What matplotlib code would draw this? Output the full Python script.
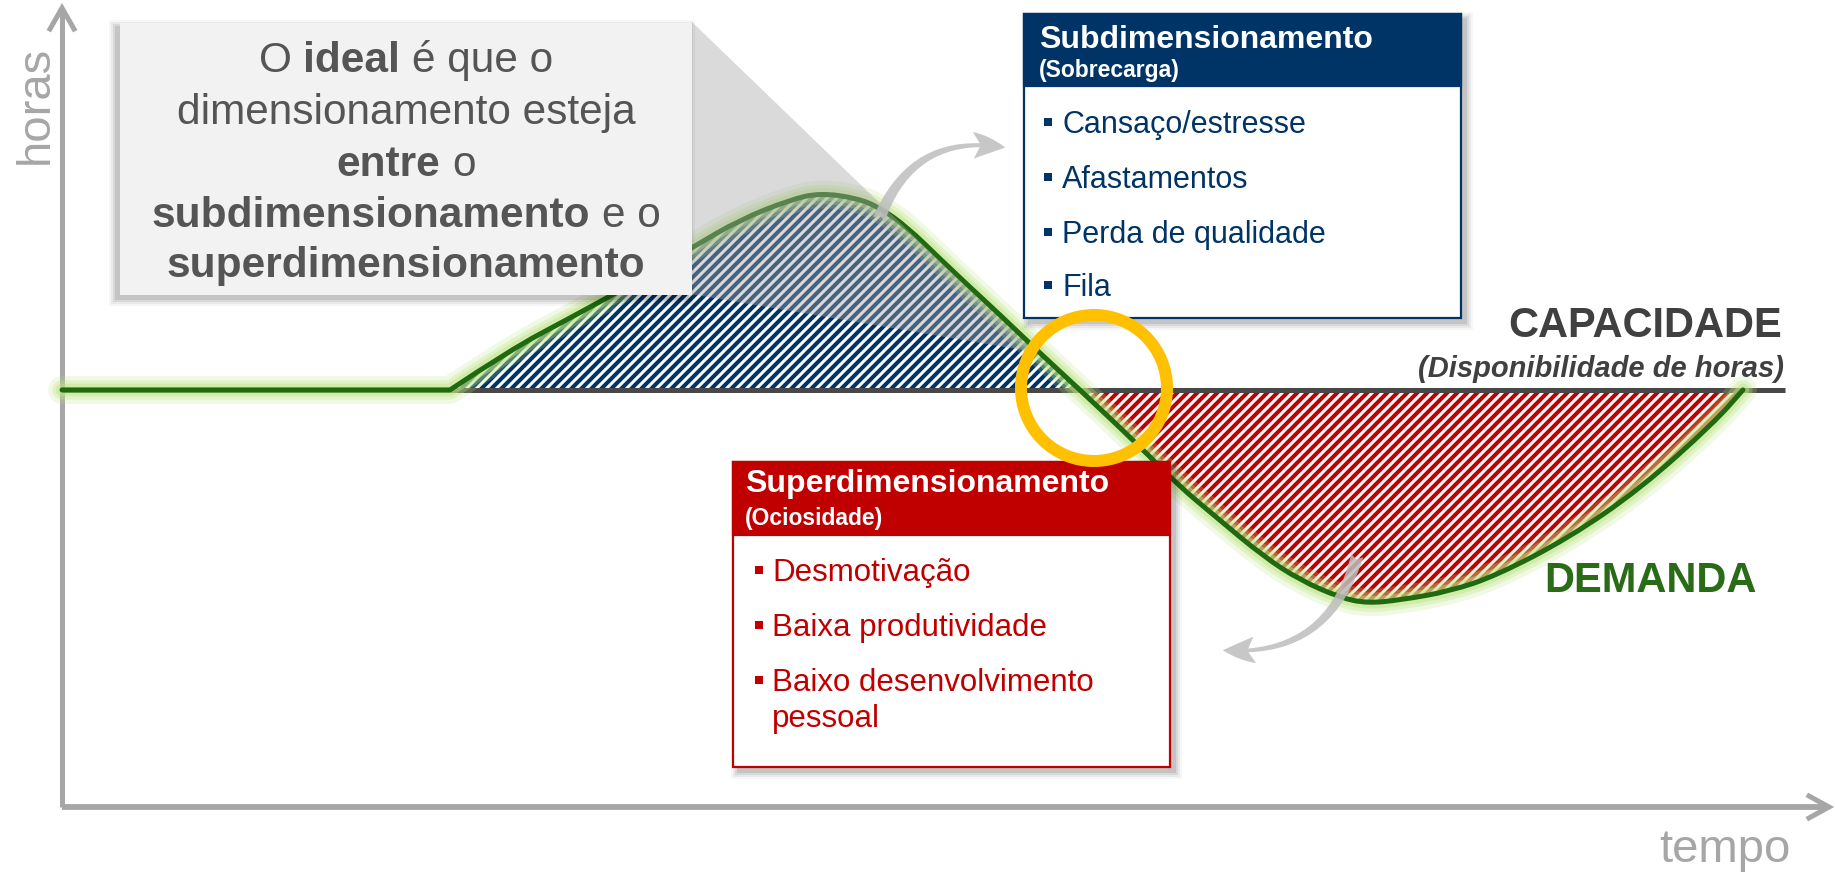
import matplotlib
matplotlib.use("Agg")
import matplotlib.pyplot as plt
from matplotlib.patches import Rectangle, Polygon, Ellipse, FancyArrowPatch, PathPatch
from matplotlib.collections import LineCollection
from matplotlib.transforms import IdentityTransform
from matplotlib.path import Path

# ---------------- data ----------------
time_points = [0.0, 6.4, 21.96, 25.35, 28.75, 32.14, 35.71, 38.37, 41.20, 42.90,
               44.99, 46.29, 47.82, 49.69, 51.56, 53.08, 55.35, 57.61, 61.01, 63.10,
               65.36, 67.97, 70.06, 72.33, 73.85, 75.72, 78.55, 81.21, 85.29, 89.36,
               93.49, 95.13]
demand_hours = [52.2, 52.2, 52.2, 57.2, 61.2, 65.3, 70.1, 73.5, 76.0, 76.85,
                76.2, 75.0, 72.6, 68.6, 64.7, 61.6, 56.8, 52.2, 45.1, 40.4,
                36.2, 31.4, 28.4, 26.2, 25.5, 25.9, 27.0, 29.0, 33.7, 39.9,
                48.1, 52.2]
capacity_hours = 52.2
capacity_end = 97.5

x_label = "tempo"
y_label = "horas"
ideal_lines = [
    [("O", "normal"), ("ideal", "bold"), ("é que o", "normal")],
    [("dimensionamento esteja", "normal")],
    [("entre", "bold"), ("o", "normal")],
    [("subdimensionamento", "bold"), ("e o", "normal")],
    [("superdimensionamento", "bold")],
]
sub_title = "Subdimensionamento"
sub_subtitle = "(Sobrecarga)"
sub_items = ["Cansaço/estresse", "Afastamentos", "Perda de qualidade", "Fila"]
super_title = "Superdimensionamento"
super_subtitle = "(Ociosidade)"
super_items = ["Desmotivação", "Baixa produtividade", "Baixo desenvolvimento", "pessoal"]
cap_label = "CAPACIDADE"
cap_sub = "(Disponibilidade de horas)"
dem_label = "DEMANDA"

# ---------------- setup ----------------
W, H, DPI = 1835, 876, 100
FONT = "Liberation Sans"
NAVY = "#003366"
RED = "#c00000"
GREEN = "#1f6a10"
AXGRAY = "#a6a6a6"

fig = plt.figure(figsize=(W / DPI, H / DPI), dpi=DPI)
fig.patch.set_facecolor("white")
ax = fig.add_axes([0, 0, 1, 1])
PX_T, PX_H = 17.67, 7.99
OX, OY = 62, 807
ax.set_xlim(-OX / PX_T, (W - OX) / PX_T)
ax.set_ylim(-(H - OY) / PX_H, OY / PX_H)
ax.axis("off")
ax.set_autoscale_on(False)


def F(x, y):
    return x / W, 1 - y / H


def pt(px):
    return px * 72 / DPI


# ---------------- axes arrows ----------------
ax.plot([0, 0], [0, 100], color=AXGRAY, lw=3.6, solid_capstyle="butt", zorder=2)
ax.plot([0, 100], [0, 0], color=AXGRAY, lw=4.2, solid_capstyle="butt", zorder=2)
ax.plot([-12 / PX_T, 0, 12 / PX_T], [100 - 21 / PX_H, 100, 100 - 21 / PX_H],
        color=AXGRAY, lw=3.6, zorder=2, solid_joinstyle="miter")
ax.plot([100 - 20 / PX_T, 100, 100 - 20 / PX_T], [11 / PX_H, 0, -11 / PX_H],
        color=AXGRAY, lw=3.6, zorder=2, solid_joinstyle="miter")

# ---------------- hatched regions ----------------
cap_arr = [capacity_hours] * len(time_points)
over = [d > capacity_hours for d in demand_hours]
under = [d < capacity_hours for d in demand_hours]
blue = ax.fill_between(time_points, cap_arr, demand_hours, where=over, interpolate=True,
                       facecolor="white", edgecolor="none", zorder=1)
red = ax.fill_between(time_points, cap_arr, demand_hours, where=under, interpolate=True,
                      facecolor="white", edgecolor="none", zorder=1)


def hatch(coll, color):
    segs = []
    k = -H
    while k < W + H:
        segs.append([(k, 0), (k + H, H)])
        k += 10
    lc = LineCollection(segs, colors=color, linewidths=2.9, transform=IdentityTransform(),
                        zorder=1.5)
    ax.add_collection(lc, autolim=False)
    paths = coll.get_paths()
    path = Path.make_compound_path(*paths) if len(paths) > 1 else paths[0]
    lc.set_clip_path(path, coll.get_transform())


hatch(blue, NAVY)
hatch(red, RED)

# capacity line
ax.plot([0, capacity_end], [capacity_hours, capacity_hours], color="#474747", lw=3.6,
        solid_capstyle="butt", zorder=2.5)

# demand curve: smooth quadratic path through midpoints (sharp corner where it leaves capacity)
pts = list(zip(time_points, demand_hours))
verts = [pts[0], pts[1], pts[2]]
codes = [Path.MOVETO, Path.LINETO, Path.LINETO]
for i in range(3, len(pts) - 1):
    mx = (pts[i][0] + pts[i + 1][0]) / 2
    my = (pts[i][1] + pts[i + 1][1]) / 2
    verts += [pts[i], (mx, my)]
    codes += [Path.CURVE3, Path.CURVE3]
verts.append(pts[-1])
codes.append(Path.LINETO)
demand_path = Path(verts, codes)

for lw, a in [(20, 0.22), (14, 0.3), (9, 0.45)]:
    ax.add_patch(PathPatch(demand_path, fill=False, edgecolor="#bfe585", lw=lw, alpha=a,
                           capstyle="round", joinstyle="round", zorder=3))
ax.add_patch(PathPatch(demand_path, fill=False, edgecolor=GREEN, lw=3.6,
                       capstyle="round", joinstyle="round", zorder=3.5))

# ---------------- figure-level annotations ----------------
def rect(x0, y0, x1, y1, **kw):
    r = Rectangle(F(x0, y1), (x1 - x0) / W, (y1 - y0) / H, transform=fig.transFigure, **kw)
    fig.add_artist(r)
    return r


def shadow(x0, y0, x1, y1, dx, dy, z):
    for g, a in [(7, 0.035), (5, 0.05), (3, 0.07), (1, 0.09)]:
        rect(x0 + dx - g, y0 + dy - g, x1 + dx + g, y1 + dy + g, facecolor="black",
             edgecolor="none", alpha=a, zorder=z)


def text(x, y, s, **kw):
    kw.setdefault("family", FONT)
    return fig.text(*F(x, y), s, **kw)


# gray wedge
wedge = Polygon([F(692, 22), F(1034, 352), F(690, 294)], closed=True,
                transform=fig.transFigure, facecolor="#a7a7a7", edgecolor="none",
                alpha=0.42, zorder=4)
fig.add_artist(wedge)

# gray box
shadow(120, 23, 692, 295, -4, 4, 4.5)
rect(120, 23, 692, 295, facecolor="#f2f2f2", edgecolor="none", zorder=5)

renderer = fig.canvas.get_renderer()


def rich_line(parts, cx, base_y, size, color):
    objs = []
    for s, wt in parts:
        objs.append(text(0, 0, s, fontsize=size, fontweight=wt, color=color,
                         ha="left", va="baseline", zorder=6))
    a1 = text(0, 0, "a a", fontsize=size)
    a2 = text(0, 0, "aa", fontsize=size)
    sw = a1.get_window_extent(renderer).width - a2.get_window_extent(renderer).width
    a1.remove()
    a2.remove()
    widths = [o.get_window_extent(renderer).width for o in objs]
    total = sum(widths) + sw * (len(objs) - 1)
    x = cx - total / 2
    for o, w in zip(objs, widths):
        o.set_position(F(x, base_y))
        x += w + sw


gsize = 30.5
for parts, cy in zip(ideal_lines, [57, 109, 161, 212, 262]):
    rich_line(parts, 406, cy + 0.358 * gsize * DPI / 72, gsize, "#555555")

# arrows
arr1 = FancyArrowPatch(F(878, 222), F(1008, 148), transform=fig.transFigure,
                       connectionstyle="arc3,rad=-0.42",
                       arrowstyle="fancy,head_length=2.3,head_width=1.9,tail_width=0.9",
                       mutation_scale=10, facecolor="#bdbdbd", edgecolor="none",
                       alpha=0.85, zorder=5.5)
fig.add_artist(arr1)
arr2 = FancyArrowPatch(F(1358, 553), F(1220, 650), transform=fig.transFigure,
                       connectionstyle="arc3,rad=-0.42",
                       arrowstyle="fancy,head_length=2.3,head_width=1.9,tail_width=0.9",
                       mutation_scale=10, facecolor="#bdbdbd", edgecolor="none",
                       alpha=0.85, zorder=5.5)
fig.add_artist(arr2)

# Subdimensionamento box
shadow(1024, 14, 1461, 318, 5, 5, 5.6)
rect(1024, 14, 1461, 318, facecolor="white", edgecolor=NAVY, lw=1.6, zorder=6)
rect(1024, 14, 1461, 86, facecolor=NAVY, edgecolor=NAVY, lw=1.6, zorder=6.1)
text(1039, 37 + 0.358 * 23 * DPI / 72, sub_title, fontsize=23, fontweight="bold",
     color="white", ha="left", va="baseline", zorder=7)
text(1039, 69 + 0.358 * 16.5 * DPI / 72, sub_subtitle, fontsize=16.5, fontweight="bold",
     color="white", ha="left", va="baseline", zorder=7)
for item, cy in zip(sub_items, [122, 177, 232, 285]):
    rect(1044, cy - 4, 1052, cy + 4, facecolor=NAVY, edgecolor="none", zorder=7)
    text(1062, cy + 0.358 * 22 * DPI / 72, item, fontsize=22, color=NAVY,
         ha="left", va="baseline", zorder=7)

# Superdimensionamento box
shadow(733, 462, 1170, 767, 5, 5, 5.6)
rect(733, 462, 1170, 767, facecolor="white", edgecolor=RED, lw=1.6, zorder=6)
rect(733, 462, 1170, 535, facecolor=RED, edgecolor=RED, lw=1.6, zorder=6.1)
text(745, 481 + 0.358 * 23 * DPI / 72, super_title, fontsize=23, fontweight="bold",
     color="white", ha="left", va="baseline", zorder=7)
text(745, 517 + 0.358 * 16.5 * DPI / 72, super_subtitle, fontsize=16.5, fontweight="bold",
     color="white", ha="left", va="baseline", zorder=7)
for i, (item, cy) in enumerate(zip(super_items, [570, 625, 680, 716])):
    if i < 3:
        rect(755, cy - 4, 763, cy + 4, facecolor=RED, edgecolor="none", zorder=7)
    text(772, cy + 0.358 * 22.5 * DPI / 72, item, fontsize=22.5, color=RED,
         ha="left", va="baseline", zorder=7)

# labels
text(1782, 322 + 0.358 * 30 * DPI / 72, cap_label, fontsize=30, fontweight="bold",
     color="#404040", ha="right", va="baseline", zorder=7)
text(1784, 367 + 0.358 * 21 * DPI / 72, cap_sub, fontsize=21, fontweight="bold",
     fontstyle="italic", color="#404040", ha="right", va="baseline", zorder=7)
text(1544, 577 + 0.358 * 30 * DPI / 72, dem_label, fontsize=30, fontweight="bold",
     color="#2a6b18", ha="left", va="baseline", zorder=7)

text(48, 105, y_label, fontsize=34, color=AXGRAY, rotation=90, rotation_mode="anchor",
     ha="center", va="baseline", zorder=7)
text(1791, 862, x_label, fontsize=34, color=AXGRAY, ha="right", va="baseline", zorder=7)

# yellow circle
circ = Ellipse(F(1094, 388), 146 / W, 146 / H, transform=fig.transFigure, facecolor="none",
               edgecolor="#ffc000", lw=pt(12), zorder=8)
fig.add_artist(circ)

fig.savefig("out.png", dpi=DPI, facecolor="white")
